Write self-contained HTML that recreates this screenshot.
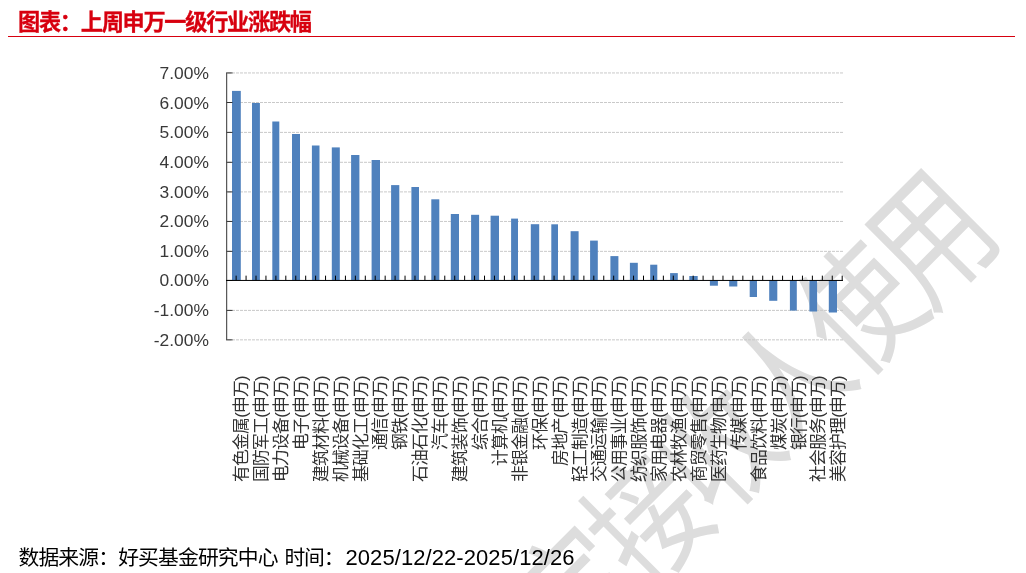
<!DOCTYPE html>
<html lang="zh-CN"><head><meta charset="utf-8"><title>图表：上周申万一级行业涨跌幅</title>
<style>
html,body{margin:0;padding:0;background:#fff;}
body{width:1026px;height:573px;overflow:hidden;position:relative;font-family:"Liberation Sans",sans-serif;}
svg{position:absolute;left:0;top:0;display:block;will-change:transform;}
.gl,.gt,.gw{position:absolute;color:transparent;white-space:nowrap;pointer-events:none;}
.gl{font-size:16px;line-height:16px;writing-mode:vertical-rl;transform:rotate(180deg);height:106px;}
.gt{line-height:24px;}
.gw{left:600px;top:300px;font-size:100px;transform:rotate(-45deg);}
</style></head><body>
<svg width="1026" height="573" viewBox="0 0 1026 573">
<g fill="#DDDDDD" font-family="'Liberation Sans', 'Noto Sans CJK SC', sans-serif" font-size="1000"><text x="-518" y="342" transform="translate(510.24 662.46) rotate(-45) scale(0.10600 0.13300)">指</text><text x="-518" y="342" transform="translate(580.95 591.75) rotate(-45) scale(0.10600 0.13300)">定</text><text x="-518" y="342" transform="translate(651.66 521.04) rotate(-45) scale(0.10600 0.13300)">接</text><text x="-518" y="342" transform="translate(722.37 450.33) rotate(-45) scale(0.10600 0.13300)">收</text><text x="-518" y="342" transform="translate(793.08 379.62) rotate(-45) scale(0.10600 0.13300)">人</text><text x="-518" y="342" transform="translate(863.79 308.91) rotate(-45) scale(0.10600 0.13300)">使</text><text x="-518" y="342" transform="translate(934.50 238.20) rotate(-45) scale(0.10918 0.13832)">用</text></g>
<text x="18" y="30.1" font-family="'Liberation Sans', 'Noto Sans CJK SC', sans-serif" font-size="22.2" font-weight="bold" fill="#D7000F" stroke="#D7000F" stroke-width="0.3" textLength="294" lengthAdjust="spacing">图表：上周申万一级行业涨跌幅</text>
<rect x="8" y="36" width="1007" height="1" fill="#D7000F"/>
<g stroke="#C9C9C9" stroke-width="1" stroke-dasharray="3 1"><line x1="228.0" y1="339.85" x2="843.0" y2="339.85"/><line x1="228.0" y1="310.40" x2="843.0" y2="310.40"/><line x1="228.0" y1="251.35" x2="843.0" y2="251.35"/><line x1="228.0" y1="221.45" x2="843.0" y2="221.45"/><line x1="228.0" y1="191.90" x2="843.0" y2="191.90"/><line x1="228.0" y1="162.30" x2="843.0" y2="162.30"/><line x1="228.0" y1="132.40" x2="843.0" y2="132.40"/><line x1="228.0" y1="102.50" x2="843.0" y2="102.50"/><line x1="228.0" y1="72.94" x2="843.0" y2="72.94"/></g>
<g fill="#4F81BD"><rect x="232.00" y="90.90" width="8.80" height="189.55"/><rect x="252.00" y="103.00" width="7.90" height="177.45"/><rect x="272.30" y="121.50" width="7.00" height="158.95"/><rect x="292.00" y="134.00" width="8.00" height="146.45"/><rect x="311.90" y="145.50" width="7.60" height="134.95"/><rect x="331.80" y="147.40" width="8.00" height="133.05"/><rect x="351.10" y="155.00" width="8.30" height="125.45"/><rect x="371.60" y="160.00" width="8.40" height="120.45"/><rect x="391.10" y="185.10" width="8.20" height="95.35"/><rect x="411.40" y="187.00" width="7.60" height="93.45"/><rect x="431.30" y="199.30" width="8.00" height="81.15"/><rect x="450.80" y="214.00" width="8.20" height="66.45"/><rect x="471.10" y="214.80" width="8.00" height="65.65"/><rect x="490.60" y="215.70" width="8.40" height="64.75"/><rect x="511.10" y="218.60" width="6.90" height="61.85"/><rect x="530.80" y="224.20" width="8.40" height="56.25"/><rect x="551.30" y="224.30" width="6.70" height="56.15"/><rect x="570.60" y="231.20" width="8.00" height="49.25"/><rect x="590.10" y="240.60" width="7.70" height="39.85"/><rect x="610.40" y="256.10" width="8.00" height="24.35"/><rect x="629.90" y="262.80" width="7.90" height="17.65"/><rect x="650.20" y="264.70" width="7.10" height="15.75"/><rect x="670.10" y="273.10" width="7.70" height="7.35"/><rect x="689.30" y="276.00" width="8.40" height="4.45"/><rect x="709.90" y="280.45" width="8.00" height="5.25"/><rect x="729.20" y="280.45" width="8.10" height="6.05"/><rect x="749.70" y="280.45" width="7.30" height="16.55"/><rect x="769.20" y="280.45" width="8.10" height="20.35"/><rect x="789.90" y="280.45" width="6.90" height="30.15"/><rect x="809.40" y="280.45" width="7.70" height="31.05"/><rect x="828.80" y="280.45" width="8.20" height="32.05"/></g>
<g stroke="#333" stroke-width="1"><line x1="226.7" y1="72.44" x2="226.7" y2="340.35"/><line x1="226.7" y1="339.85" x2="232.5" y2="339.85"/><line x1="226.7" y1="310.40" x2="232.5" y2="310.40"/><line x1="226.7" y1="280.45" x2="232.5" y2="280.45"/><line x1="226.7" y1="251.35" x2="232.5" y2="251.35"/><line x1="226.7" y1="221.45" x2="232.5" y2="221.45"/><line x1="226.7" y1="191.90" x2="232.5" y2="191.90"/><line x1="226.7" y1="162.30" x2="232.5" y2="162.30"/><line x1="226.7" y1="132.40" x2="232.5" y2="132.40"/><line x1="226.7" y1="102.50" x2="232.5" y2="102.50"/><line x1="226.7" y1="72.94" x2="232.5" y2="72.94"/></g>
<g stroke="#000" stroke-width="1"><line x1="226.0" y1="280.45" x2="843.0" y2="280.45"/><line x1="236.14" y1="275.65" x2="236.14" y2="280.45"/><line x1="246.07" y1="275.65" x2="246.07" y2="280.45"/><line x1="256.01" y1="275.65" x2="256.01" y2="280.45"/><line x1="265.94" y1="275.65" x2="265.94" y2="280.45"/><line x1="275.88" y1="275.65" x2="275.88" y2="280.45"/><line x1="285.81" y1="275.65" x2="285.81" y2="280.45"/><line x1="295.75" y1="275.65" x2="295.75" y2="280.45"/><line x1="305.68" y1="275.65" x2="305.68" y2="280.45"/><line x1="315.62" y1="275.65" x2="315.62" y2="280.45"/><line x1="325.55" y1="275.65" x2="325.55" y2="280.45"/><line x1="335.49" y1="275.65" x2="335.49" y2="280.45"/><line x1="345.43" y1="275.65" x2="345.43" y2="280.45"/><line x1="355.36" y1="275.65" x2="355.36" y2="280.45"/><line x1="365.30" y1="275.65" x2="365.30" y2="280.45"/><line x1="375.23" y1="275.65" x2="375.23" y2="280.45"/><line x1="385.17" y1="275.65" x2="385.17" y2="280.45"/><line x1="395.10" y1="275.65" x2="395.10" y2="280.45"/><line x1="405.04" y1="275.65" x2="405.04" y2="280.45"/><line x1="414.97" y1="275.65" x2="414.97" y2="280.45"/><line x1="424.91" y1="275.65" x2="424.91" y2="280.45"/><line x1="434.85" y1="275.65" x2="434.85" y2="280.45"/><line x1="444.78" y1="275.65" x2="444.78" y2="280.45"/><line x1="454.72" y1="275.65" x2="454.72" y2="280.45"/><line x1="464.65" y1="275.65" x2="464.65" y2="280.45"/><line x1="474.59" y1="275.65" x2="474.59" y2="280.45"/><line x1="484.52" y1="275.65" x2="484.52" y2="280.45"/><line x1="494.46" y1="275.65" x2="494.46" y2="280.45"/><line x1="504.39" y1="275.65" x2="504.39" y2="280.45"/><line x1="514.33" y1="275.65" x2="514.33" y2="280.45"/><line x1="524.26" y1="275.65" x2="524.26" y2="280.45"/><line x1="534.20" y1="275.65" x2="534.20" y2="280.45"/><line x1="544.14" y1="275.65" x2="544.14" y2="280.45"/><line x1="554.07" y1="275.65" x2="554.07" y2="280.45"/><line x1="564.01" y1="275.65" x2="564.01" y2="280.45"/><line x1="573.94" y1="275.65" x2="573.94" y2="280.45"/><line x1="583.88" y1="275.65" x2="583.88" y2="280.45"/><line x1="593.81" y1="275.65" x2="593.81" y2="280.45"/><line x1="603.75" y1="275.65" x2="603.75" y2="280.45"/><line x1="613.68" y1="275.65" x2="613.68" y2="280.45"/><line x1="623.62" y1="275.65" x2="623.62" y2="280.45"/><line x1="633.55" y1="275.65" x2="633.55" y2="280.45"/><line x1="643.49" y1="275.65" x2="643.49" y2="280.45"/><line x1="653.43" y1="275.65" x2="653.43" y2="280.45"/><line x1="663.36" y1="275.65" x2="663.36" y2="280.45"/><line x1="673.30" y1="275.65" x2="673.30" y2="280.45"/><line x1="683.23" y1="275.65" x2="683.23" y2="280.45"/><line x1="693.17" y1="275.65" x2="693.17" y2="280.45"/><line x1="703.10" y1="275.65" x2="703.10" y2="280.45"/><line x1="713.04" y1="275.65" x2="713.04" y2="280.45"/><line x1="722.97" y1="275.65" x2="722.97" y2="280.45"/><line x1="732.91" y1="275.65" x2="732.91" y2="280.45"/><line x1="742.85" y1="275.65" x2="742.85" y2="280.45"/><line x1="752.78" y1="275.65" x2="752.78" y2="280.45"/><line x1="762.72" y1="275.65" x2="762.72" y2="280.45"/><line x1="772.65" y1="275.65" x2="772.65" y2="280.45"/><line x1="782.59" y1="275.65" x2="782.59" y2="280.45"/><line x1="792.52" y1="275.65" x2="792.52" y2="280.45"/><line x1="802.46" y1="275.65" x2="802.46" y2="280.45"/><line x1="812.39" y1="275.65" x2="812.39" y2="280.45"/><line x1="822.33" y1="275.65" x2="822.33" y2="280.45"/><line x1="832.26" y1="275.65" x2="832.26" y2="280.45"/><line x1="842.20" y1="275.65" x2="842.20" y2="280.45"/></g>
<g font-family="'Liberation Sans', sans-serif" font-size="17.4" fill="#383838" text-anchor="end"><text x="208.9" y="345.85">-2.00%</text><text x="208.9" y="316.40">-1.00%</text><text x="208.9" y="286.45">0.00%</text><text x="208.9" y="257.35">1.00%</text><text x="208.9" y="227.45">2.00%</text><text x="208.9" y="197.90">3.00%</text><text x="208.9" y="168.30">4.00%</text><text x="208.9" y="138.40">5.00%</text><text x="208.9" y="108.50">6.00%</text><text x="208.9" y="78.94">7.00%</text></g>
<g font-family="'Liberation Sans', 'Noto Sans CJK SC', sans-serif" font-size="16.8" fill="#333333" text-anchor="end">
<text transform="translate(247.10 375.30) rotate(-90)" textLength="106.8" lengthAdjust="spacing">有色金属(申万)</text>
<text transform="translate(267.01 375.30) rotate(-90)" textLength="106.8" lengthAdjust="spacing">国防军工(申万)</text>
<text transform="translate(286.92 375.30) rotate(-90)" textLength="106.8" lengthAdjust="spacing">电力设备(申万)</text>
<text transform="translate(306.83 375.30) rotate(-90)" textLength="74.8" lengthAdjust="spacing">电子(申万)</text>
<text transform="translate(326.74 375.30) rotate(-90)" textLength="106.8" lengthAdjust="spacing">建筑材料(申万)</text>
<text transform="translate(346.65 375.30) rotate(-90)" textLength="106.8" lengthAdjust="spacing">机械设备(申万)</text>
<text transform="translate(366.56 375.30) rotate(-90)" textLength="106.8" lengthAdjust="spacing">基础化工(申万)</text>
<text transform="translate(386.47 375.30) rotate(-90)" textLength="74.8" lengthAdjust="spacing">通信(申万)</text>
<text transform="translate(406.38 375.30) rotate(-90)" textLength="74.8" lengthAdjust="spacing">钢铁(申万)</text>
<text transform="translate(426.29 375.30) rotate(-90)" textLength="106.8" lengthAdjust="spacing">石油石化(申万)</text>
<text transform="translate(446.20 375.30) rotate(-90)" textLength="74.8" lengthAdjust="spacing">汽车(申万)</text>
<text transform="translate(466.11 375.30) rotate(-90)" textLength="106.8" lengthAdjust="spacing">建筑装饰(申万)</text>
<text transform="translate(486.02 375.30) rotate(-90)" textLength="74.8" lengthAdjust="spacing">综合(申万)</text>
<text transform="translate(505.93 375.30) rotate(-90)" textLength="90.8" lengthAdjust="spacing">计算机(申万)</text>
<text transform="translate(525.84 375.30) rotate(-90)" textLength="106.8" lengthAdjust="spacing">非银金融(申万)</text>
<text transform="translate(545.75 375.30) rotate(-90)" textLength="74.8" lengthAdjust="spacing">环保(申万)</text>
<text transform="translate(565.66 375.30) rotate(-90)" textLength="90.8" lengthAdjust="spacing">房地产(申万)</text>
<text transform="translate(585.57 375.30) rotate(-90)" textLength="106.8" lengthAdjust="spacing">轻工制造(申万)</text>
<text transform="translate(605.48 375.30) rotate(-90)" textLength="106.8" lengthAdjust="spacing">交通运输(申万)</text>
<text transform="translate(625.39 375.30) rotate(-90)" textLength="106.8" lengthAdjust="spacing">公用事业(申万)</text>
<text transform="translate(645.30 375.30) rotate(-90)" textLength="106.8" lengthAdjust="spacing">纺织服饰(申万)</text>
<text transform="translate(665.21 375.30) rotate(-90)" textLength="106.8" lengthAdjust="spacing">家用电器(申万)</text>
<text transform="translate(685.12 375.30) rotate(-90)" textLength="106.8" lengthAdjust="spacing">农林牧渔(申万)</text>
<text transform="translate(705.03 375.30) rotate(-90)" textLength="106.8" lengthAdjust="spacing">商贸零售(申万)</text>
<text transform="translate(724.94 375.30) rotate(-90)" textLength="106.8" lengthAdjust="spacing">医药生物(申万)</text>
<text transform="translate(744.85 375.30) rotate(-90)" textLength="74.8" lengthAdjust="spacing">传媒(申万)</text>
<text transform="translate(764.76 375.30) rotate(-90)" textLength="106.8" lengthAdjust="spacing">食品饮料(申万)</text>
<text transform="translate(784.67 375.30) rotate(-90)" textLength="74.8" lengthAdjust="spacing">煤炭(申万)</text>
<text transform="translate(804.58 375.30) rotate(-90)" textLength="74.8" lengthAdjust="spacing">银行(申万)</text>
<text transform="translate(824.49 375.30) rotate(-90)" textLength="106.8" lengthAdjust="spacing">社会服务(申万)</text>
<text transform="translate(844.40 375.30) rotate(-90)" textLength="106.8" lengthAdjust="spacing">美容护理(申万)</text>
</g>
<text x="18.5" y="564.9" font-family="'Liberation Sans', 'Noto Sans CJK SC', sans-serif" font-size="20.8" fill="#000" textLength="260" lengthAdjust="spacing">数据来源：好买基金研究中心</text>
<text x="284.5" y="564.9" font-family="'Liberation Sans', 'Noto Sans CJK SC', sans-serif" font-size="20.8" fill="#000" textLength="60" lengthAdjust="spacing">时间：</text>
<text x="345.5" y="564.6" font-family="'Liberation Sans', sans-serif" font-size="22" fill="#000" textLength="229" lengthAdjust="spacing">2025/12/22-2025/12/26</text>
</svg>
<div class="gl" style="left:233.1px;top:375px">有色金属(申万)</div>
<div class="gl" style="left:253.0px;top:375px">国防军工(申万)</div>
<div class="gl" style="left:272.9px;top:375px">电力设备(申万)</div>
<div class="gl" style="left:292.8px;top:375px">电子(申万)</div>
<div class="gl" style="left:312.7px;top:375px">建筑材料(申万)</div>
<div class="gl" style="left:332.6px;top:375px">机械设备(申万)</div>
<div class="gl" style="left:352.6px;top:375px">基础化工(申万)</div>
<div class="gl" style="left:372.5px;top:375px">通信(申万)</div>
<div class="gl" style="left:392.4px;top:375px">钢铁(申万)</div>
<div class="gl" style="left:412.3px;top:375px">石油石化(申万)</div>
<div class="gl" style="left:432.2px;top:375px">汽车(申万)</div>
<div class="gl" style="left:452.1px;top:375px">建筑装饰(申万)</div>
<div class="gl" style="left:472.0px;top:375px">综合(申万)</div>
<div class="gl" style="left:491.9px;top:375px">计算机(申万)</div>
<div class="gl" style="left:511.8px;top:375px">非银金融(申万)</div>
<div class="gl" style="left:531.8px;top:375px">环保(申万)</div>
<div class="gl" style="left:551.7px;top:375px">房地产(申万)</div>
<div class="gl" style="left:571.6px;top:375px">轻工制造(申万)</div>
<div class="gl" style="left:591.5px;top:375px">交通运输(申万)</div>
<div class="gl" style="left:611.4px;top:375px">公用事业(申万)</div>
<div class="gl" style="left:631.3px;top:375px">纺织服饰(申万)</div>
<div class="gl" style="left:651.2px;top:375px">家用电器(申万)</div>
<div class="gl" style="left:671.1px;top:375px">农林牧渔(申万)</div>
<div class="gl" style="left:691.0px;top:375px">商贸零售(申万)</div>
<div class="gl" style="left:710.9px;top:375px">医药生物(申万)</div>
<div class="gl" style="left:730.9px;top:375px">传媒(申万)</div>
<div class="gl" style="left:750.8px;top:375px">食品饮料(申万)</div>
<div class="gl" style="left:770.7px;top:375px">煤炭(申万)</div>
<div class="gl" style="left:790.6px;top:375px">银行(申万)</div>
<div class="gl" style="left:810.5px;top:375px">社会服务(申万)</div>
<div class="gl" style="left:830.4px;top:375px">美容护理(申万)</div>
<div class="gt" style="left:18.6px;top:8px;font-size:21px;font-weight:bold">图表：上周申万一级行业涨跌幅</div>
<div class="gt" style="left:18.8px;top:543px;font-size:20px">数据来源：好买基金研究中心 时间：</div>
<div class="gw">指定接收人使用</div>
</body></html>
